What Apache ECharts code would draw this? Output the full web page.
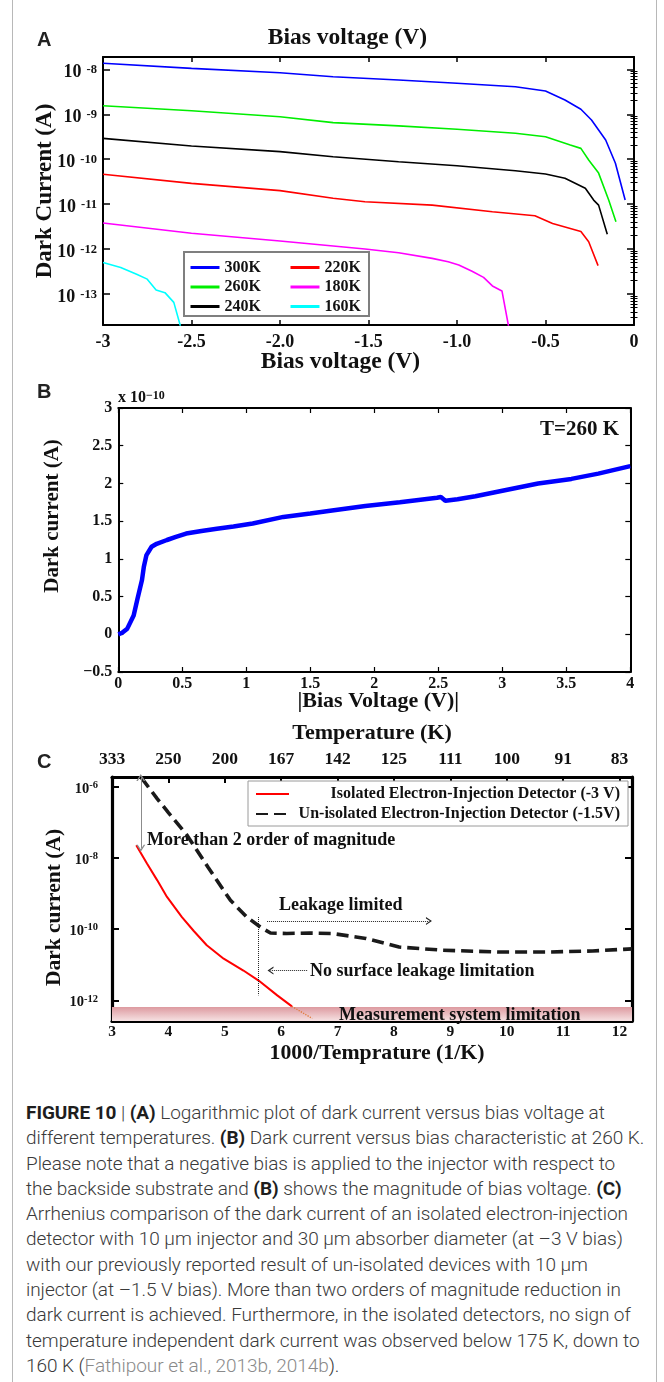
<!DOCTYPE html>
<html>
<head>
<meta charset="utf-8">
<title>Figure 10 – dark current</title>
<script src="https://cdn.jsdelivr.net/npm/echarts@6/dist/echarts.min.js"></script>
<style>
  html, body { margin: 0; padding: 0; background: #fff; }
  #frame { position: absolute; left: 12px; top: 0; width: 645px; height: 1382px;
           border-left: 1px solid #b8b8b8; border-right: 1px solid #b8b8b8; box-sizing: border-box; }
  #chart { position: absolute; left: 0; top: 0; width: 664px; height: 1090px; }
  #caption { position: absolute; left: 26px; top: 1100px; white-space: nowrap;
             font-family: Roboto, "Liberation Sans", Arial, sans-serif; font-weight: 300;
             font-size: 19px; letter-spacing: -0.05px; line-height: 25.3px; color: #3a3a3a; }
  #caption b { font-weight: 700; color: #1e1e1e; }
  #caption .cite { color: #8a8a8a; }
</style>
</head>
<body>
<div id="frame"></div>
<div id="chart"></div>
<div id="caption">
<b>FIGURE 10</b> | <b>(A)</b> Logarithmic plot of dark current versus bias voltage at<br>
different temperatures. <b>(B)</b> Dark current versus bias characteristic at 260 K.<br>
Please note that a negative bias is applied to the injector with respect to<br>
the backside substrate and <b>(B)</b> shows the magnitude of bias voltage. <b>(C)</b><br>
Arrhenius comparison of the dark current of an isolated electron-injection<br>
detector with 10 μm injector and 30 μm absorber diameter (at –3 V bias)<br>
with our previously reported result of un-isolated devices with 10 μm<br>
injector (at –1.5 V bias). More than two orders of magnitude reduction in<br>
dark current is achieved. Furthermore, in the isolated detectors, no sign of<br>
temperature independent dark current was observed below 175 K, down to<br>
160 K (<span class="cite">Fathipour et al., 2013b, 2014b</span>).
</div>
<script>
// ---------- (A) dark current [A] versus bias voltage [V] ----------
const iv300K = [[-3, 1.36e-8], [-2.5, 1.05e-8], [-2.0, 8.4e-9], [-1.7, 6.85e-9], [-1.33, 5.78e-9],
  [-1.0, 4.9e-9], [-0.67, 4.1e-9], [-0.5, 3.29e-9], [-0.39, 2.07e-9], [-0.3, 1.29e-9],
  [-0.24, 7.45e-10], [-0.16, 2.67e-10], [-0.105, 8.1e-11], [-0.05, 1.23e-11]];
const iv260K = [[-3, 1.55e-9], [-2.5, 1.2e-9], [-2.0, 8.8e-10], [-1.7, 6.5e-10], [-1.33, 5.5e-10],
  [-1.0, 4.62e-10], [-0.67, 3.77e-10], [-0.5, 3.16e-10], [-0.36, 2.07e-10], [-0.3, 1.74e-10],
  [-0.255, 9.5e-11], [-0.2, 4.9e-11], [-0.143, 1.23e-11], [-0.102, 4.07e-12]];
const iv240K = [[-3, 2.91e-10], [-2.5, 1.96e-10], [-2.0, 1.47e-10], [-1.7, 1.135e-10], [-1.33, 8.8e-11],
  [-1.0, 7.16e-11], [-0.67, 5.55e-11], [-0.5, 4.68e-11], [-0.39, 3.75e-11], [-0.275, 2.25e-11],
  [-0.228, 1.23e-11], [-0.2, 9.5e-12], [-0.151, 2.14e-12]];
const iv220K = [[-3, 4.61e-11], [-2.5, 2.9e-11], [-2.0, 2.0e-11], [-1.7, 1.35e-11], [-1.52, 1.13e-11],
  [-1.14, 9.5e-12], [-0.8, 6.76e-12], [-0.56, 5.5e-12], [-0.46, 3.72e-12], [-0.3, 2.45e-12],
  [-0.256, 1.45e-12], [-0.203, 4.27e-13]];
const iv180K = [[-3, 3.8e-12], [-2.5, 2.24e-12], [-2.0, 1.51e-12], [-1.7, 1.17e-12], [-1.52, 1.0e-12],
  [-1.33, 8.3e-13], [-1.14, 6.2e-13], [-1.05, 5.2e-13], [-0.99, 4.4e-13], [-0.915, 3.2e-13],
  [-0.85, 2.34e-13], [-0.8, 1.51e-13], [-0.746, 1.17e-13], [-0.70, 1.26e-14]];
const iv160K = [[-3, 5.0e-13], [-2.9, 3.9e-13], [-2.81, 2.75e-13], [-2.75, 2.14e-13], [-2.7, 1.23e-13],
  [-2.65, 1.07e-13], [-2.6, 6.5e-14], [-2.565, 2.1e-14], [-2.555, 1.26e-14]];
const decadesA = [1e-13, 1e-12, 1e-11, 1e-10, 1e-9, 1e-8];

// ---------- (B) dark current at 260 K versus |bias| ----------
const biasB = [0, 0.03, 0.07, 0.12, 0.15, 0.185, 0.2, 0.22, 0.26, 0.3, 0.38, 0.45, 0.53, 0.65, 0.77,
  0.9, 1.05, 1.29, 1.5, 1.67, 1.93, 2.2, 2.49, 2.52, 2.555, 2.65, 2.79, 3.02, 3.28, 3.54, 3.75, 3.9, 4.0];
const currentB = [0, 0.02, 0.075, 0.25, 0.47, 0.72, 0.9, 1.05, 1.16, 1.2, 1.25, 1.29, 1.335, 1.37, 1.40,
  1.43, 1.468, 1.556, 1.6, 1.64, 1.70, 1.75, 1.81, 1.82, 1.77, 1.79, 1.83, 1.91, 2.0, 2.06, 2.13, 2.19, 2.23]; // ×1e-10 A

// ---------- (C) Arrhenius plot: dark current versus 1000/T ----------
const invTIsolated = [3.43, 3.62, 3.8, 3.975, 4.24, 4.45, 4.68, 4.98, 5.33, 5.6, 5.93, 6.19];
const darkIsolated = [2.3e-8, 7.0e-9, 2.4e-9, 8.1e-10, 2.2e-10, 8.9e-11, 3.55e-11, 1.48e-11, 6.9e-12,
  3.6e-12, 1.38e-12, 6.8e-13];
const invTIsolatedExt = [6.19, 6.55];
const darkIsolatedExt = [6.8e-13, 3.1e-13];
const invTUnisolated = [3.52, 3.8, 4.0, 4.33, 4.7, 5.1, 5.39, 5.63, 5.81, 6.1, 6.5, 6.9, 7.5, 8.09,
  8.86, 9.86, 10.75, 11.52, 12.22];
const darkUnisolated = [1.82e-6, 4.7e-7, 1.9e-7, 4.4e-8, 5.6e-9, 6.5e-10, 2.2e-10, 1.15e-10, 7.8e-11,
  7.6e-11, 7.8e-11, 7.6e-11, 5.5e-11, 3.16e-11, 2.57e-11, 2.29e-11, 2.29e-11, 2.45e-11, 2.8e-11];
const invTTicks = [3, 4, 5, 6, 7, 8, 9, 10, 11, 12];
const temperatureTickLabels = ['333', '250', '200', '167', '142', '125', '111', '100', '91', '83'];
const decadesC = [1e-12, 1e-10, 1e-8, 1e-6];
const measurementFloor = [2.63e-13, 6.5e-13];

// ---------- helpers ----------
const SERIF = '"Liberation Serif", "Times New Roman", Times, serif';
const SANS = '"Liberation Sans", Arial, Helvetica, sans-serif';
const INK = '#111';
const zip = (xs, ys) => xs.map((x, i) => [x, ys[i]]);
const bold = (size, extra) => Object.assign({ fontFamily: SERIF, fontWeight: 'bold', fontSize: size, color: INK }, extra || {});
const minorDecadeTicks = (lo, hi) => {
  const out = [];
  for (let e = Math.floor(Math.log10(lo)); e <= Math.ceil(Math.log10(hi)); e++) {
    for (let k = 2; k <= 9; k++) {
      const v = k * Math.pow(10, e);
      if (v > lo && v < hi) out.push(v);
    }
  }
  return out;
};
const powLabel = v => '{b|10}{s|' + Math.round(Math.log10(v)) + '}';

const A_MIN = 2.04e-14, A_MAX = 1.88e-8;
const C_MIN = 2.63e-13, C_MAX = 1.9e-6;
const C_XMAX = 12.22;

function frameLine(w) { return { show: true, onZero: false, lineStyle: { color: '#000', width: w } }; }
function blankAxis() { return { axisLabel: { show: false }, splitLine: { show: false } }; }

const chevron = 'path://M0,10 L5,0 L10,10 L8.3,10 L5,3.4 L1.7,10 Z';

// ---------- axes ----------
const xAxes = [
  // A bottom
  { gridIndex: 0, type: 'value', position: 'bottom', min: -3, max: 0, interval: 0.5,
    axisLine: frameLine(2), axisTick: { inside: true, length: 5, lineStyle: { color: '#000', width: 1.5 } },
    axisLabel: Object.assign(bold(18), { margin: 8,
      formatter: v => (v === 0 ? '0' : (v === -3 ? '-3' : v.toFixed(1))) }),
    splitLine: { show: false },
    name: 'Bias voltage (V)', nameLocation: 'middle', nameGap: 25, nameMoveOverlap: false,
    nameTextStyle: bold(23.5, { padding: [0, 56, 0, 0] }) },
  // A top
  Object.assign(blankAxis(), { gridIndex: 0, type: 'value', position: 'top', min: -3, max: 0, interval: 0.5,
    axisLine: frameLine(2), axisTick: { inside: true, length: 5, lineStyle: { color: '#000', width: 1.5 } },
    name: 'Bias voltage (V)', nameLocation: 'middle', nameGap: 7, nameMoveOverlap: false,
    nameTextStyle: bold(23.5, { padding: [0, 42, 0, 0] }) }),
  // B bottom
  { gridIndex: 1, type: 'value', position: 'bottom', min: 0, max: 4, interval: 0.5,
    axisLine: frameLine(2), axisTick: { inside: true, length: 5, lineStyle: { color: '#000', width: 1.2 } },
    axisLabel: Object.assign(bold(16), { margin: 4 }),
    splitLine: { show: false },
    name: '|Bias Voltage (V)|', nameLocation: 'middle', nameGap: 18, nameMoveOverlap: false,
    nameTextStyle: bold(22, { padding: [0, 0, 0, 8] }) },
  // B top
  Object.assign(blankAxis(), { gridIndex: 1, type: 'value', position: 'top', min: 0, max: 4, interval: 0.5,
    axisLine: frameLine(2), axisTick: { inside: true, length: 5, lineStyle: { color: '#000', width: 1.2 } } }),
  // C bottom
  { gridIndex: 2, type: 'value', position: 'bottom', min: 3, max: C_XMAX,
    axisLine: frameLine(3.2),
    axisTick: { inside: true, length: 7, customValues: invTTicks, lineStyle: { color: '#000', width: 2 } },
    axisLabel: Object.assign(bold(15.5), { margin: 3, customValues: invTTicks }),
    splitLine: { show: false },
    name: '1000/Temprature (1/K)', nameLocation: 'middle', nameGap: 21, nameMoveOverlap: false,
    nameTextStyle: bold(21.8, { padding: [0, 0, 0, 10] }) },
  // C top (temperature scale)
  { gridIndex: 2, type: 'value', position: 'top', min: 3, max: C_XMAX,
    axisLine: frameLine(3.2),
    axisTick: { inside: true, length: 6, customValues: invTTicks, lineStyle: { color: '#000', width: 2 } },
    axisLabel: Object.assign(bold(17.5), { margin: 9, customValues: invTTicks,
      formatter: v => temperatureTickLabels[invTTicks.indexOf(Math.round(v))] }),
    splitLine: { show: false },
    name: 'Temperature (K)', nameLocation: 'middle', nameGap: 33, nameTextStyle: bold(22), nameMoveOverlap: false }
];

const richA = {
  b: { fontFamily: SERIF, fontWeight: 'bold', fontSize: 18, color: INK, lineHeight: 18 },
  s: { fontFamily: SERIF, fontWeight: 'bold', fontSize: 12.5, color: INK, lineHeight: 12, verticalAlign: 'top', padding: [0, 0, 0, 5] }
};
const richC = {
  b: { fontFamily: SERIF, fontWeight: 'bold', fontSize: 14.5, color: INK, lineHeight: 14, padding: [4, 0, 0, 0] },
  s: { fontFamily: SERIF, fontWeight: 'bold', fontSize: 10.5, color: INK, lineHeight: 10, verticalAlign: 'top' }
};
const minorA = minorDecadeTicks(A_MIN, A_MAX);

const yAxes = [
  // A left (decades + labels)
  { gridIndex: 0, type: 'log', position: 'left', min: A_MIN, max: A_MAX,
    axisLine: frameLine(2),
    axisTick: { inside: true, length: 7, customValues: decadesA, lineStyle: { color: '#000', width: 1.5 } },
    axisLabel: { customValues: decadesA, margin: 6, padding: [6, 0, 0, 0], formatter: powLabel, rich: richA },
    splitLine: { show: false }, minorTick: { show: false },
    name: 'Dark Current (A)', nameLocation: 'middle', nameGap: 46, nameTextStyle: bold(23), nameMoveOverlap: false },
  // A left minor ticks
  Object.assign(blankAxis(), { gridIndex: 0, type: 'log', position: 'left', min: A_MIN, max: A_MAX,
    axisLine: { show: false },
    axisTick: { inside: true, length: 3.5, customValues: minorA, lineStyle: { color: '#000', width: 1 } } }),
  // A right
  Object.assign(blankAxis(), { gridIndex: 0, type: 'log', position: 'right', min: A_MIN, max: A_MAX,
    axisLine: frameLine(2),
    axisTick: { inside: true, length: 7, customValues: decadesA, lineStyle: { color: '#000', width: 1.5 } } }),
  // A right minor ticks
  Object.assign(blankAxis(), { gridIndex: 0, type: 'log', position: 'right', min: A_MIN, max: A_MAX,
    axisLine: { show: false },
    axisTick: { inside: true, length: 3.5, customValues: minorA, lineStyle: { color: '#000', width: 1 } } }),
  // B left
  { gridIndex: 1, type: 'value', position: 'left', min: -0.5, max: 3, interval: 0.5,
    axisLine: frameLine(2),
    axisTick: { inside: true, length: 5, lineStyle: { color: '#000', width: 1.2 } },
    axisLabel: Object.assign(bold(16), { margin: 6, formatter: v => (v < 0 ? '\u2212' + Math.abs(v) : String(v)) }),
    splitLine: { show: false },
    name: 'Dark current (A)', nameLocation: 'middle', nameGap: 55, nameMoveOverlap: false,
    nameTextStyle: bold(21, { padding: [0, 0, 0, 48] }) },
  // B right
  Object.assign(blankAxis(), { gridIndex: 1, type: 'value', position: 'right', min: -0.5, max: 3, interval: 0.5,
    axisLine: frameLine(2),
    axisTick: { inside: true, length: 5, lineStyle: { color: '#000', width: 1.2 } } }),
  // C left
  { gridIndex: 2, type: 'log', position: 'left', min: C_MIN, max: C_MAX,
    axisLine: frameLine(3.2),
    axisTick: { inside: true, length: 7, customValues: decadesC, lineStyle: { color: '#000', width: 2 } },
    axisLabel: { customValues: decadesC, margin: 14, formatter: powLabel, rich: richC },
    splitLine: { show: false }, minorTick: { show: false },
    name: 'Dark current (A)', nameLocation: 'middle', nameGap: 47, nameMoveOverlap: false,
    nameTextStyle: bold(21.5, { padding: [0, 17, 0, 0] }) },
  // C right
  Object.assign(blankAxis(), { gridIndex: 2, type: 'log', position: 'right', min: C_MIN, max: C_MAX,
    axisLine: frameLine(3.2),
    axisTick: { inside: true, length: 7, customValues: decadesC, lineStyle: { color: '#000', width: 2 } } })
];

// ---------- series ----------
const lineA = (name, data, color) => ({
  name, type: 'line', xAxisIndex: 0, yAxisIndex: 0, data, symbol: 'none', clip: true,
  lineStyle: { color, width: 1.6 }, itemStyle: { color }, z: 2
});

const series = [
  lineA('300K', iv300K, '#0000ff'),
  lineA('260K', iv260K, '#00ee00'),
  lineA('240K', iv240K, '#000000'),
  lineA('220K', iv220K, '#ff0000'),
  lineA('180K', iv180K, '#ff00ff'),
  lineA('160K', iv160K, '#00ffff'),
  { name: 'T=260 K', type: 'line', xAxisIndex: 2, yAxisIndex: 4, data: zip(biasB, currentB),
    symbol: 'none', lineStyle: { color: '#0000ff', width: 4.5 }, itemStyle: { color: '#0000ff' } },
  { name: 'Isolated Electron-Injection Detector (-3 V)', type: 'line', xAxisIndex: 4, yAxisIndex: 6,
    data: zip(invTIsolated, darkIsolated), symbol: 'none', clip: true,
    lineStyle: { color: '#ff0000', width: 2 }, itemStyle: { color: '#ff0000' }, z: 3,
    markArea: {
      silent: true,
      itemStyle: { color: new echarts.graphic.LinearGradient(0, 0, 0, 1, [
        { offset: 0, color: '#dd9aa0' }, { offset: 1, color: '#f6e2e3' }]) },
      data: [[{ coord: [3, measurementFloor[1]] }, { coord: [C_XMAX, measurementFloor[0]] }]]
    },
    markLine: {
      silent: true, animation: false, symbol: 'none', label: { show: false },
      emphasis: { disabled: true },
      data: [
        [{ coord: [3.51, 1.85e-6], symbol: chevron, symbolSize: [9, 7],
           lineStyle: { color: '#8c8c8c', width: 1, type: 'solid' } },
         { coord: [3.51, 1.9e-8], symbol: chevron, symbolSize: [9, 7] }],
        [{ coord: [5.75, 1.7e-10], symbol: 'none', lineStyle: { color: '#222', width: 1, type: 'dotted' } },
         { coord: [8.62, 1.7e-10], symbol: chevron, symbolSize: [8, 6] }],
        [{ coord: [5.6, 2.2e-10], symbol: 'none', lineStyle: { color: '#222', width: 1, type: 'dotted' } },
         { coord: [5.6, 1.38e-12], symbol: 'none' }],
        [{ coord: [6.46, 6.9e-12], symbol: 'none', lineStyle: { color: '#222', width: 1, type: 'dotted' } },
         { coord: [5.81, 6.9e-12], symbol: chevron, symbolSize: [8, 6] }]
      ]
    } },
  { name: 'isolated-extrapolated', type: 'line', xAxisIndex: 4, yAxisIndex: 6,
    data: zip(invTIsolatedExt, darkIsolatedExt), symbol: 'none',
    lineStyle: { color: '#e07a3a', width: 1.3, type: 'dotted' }, z: 3 },
  { name: 'Un-isolated Electron-Injection Detector (-1.5V)', type: 'line', xAxisIndex: 4, yAxisIndex: 6,
    data: zip(invTUnisolated, darkUnisolated), symbol: 'none', clip: true,
    lineStyle: { color: '#1a1a1a', width: 3.6, type: [12, 6] }, itemStyle: { color: '#1a1a1a' }, z: 3 }
];

// ---------- legends ----------
const legendA = (left, names) => ({
  orient: 'vertical', left, top: 259.5, padding: 0, itemGap: 3.5, itemWidth: 29, itemHeight: 14,
  data: names, selectedMode: false, z: 6,
  lineStyle: { width: 3 },
  itemStyle: { opacity: 0 },
  textStyle: bold(16)
});

const option = {
  animation: false,
  backgroundColor: 'transparent',
  grid: [
    { left: 103, top: 57, width: 531, height: 268, outerBoundsMode: 'none', containLabel: false },
    { left: 118.3, top: 408, width: 512, height: 264, outerBoundsMode: 'none', containLabel: false },
    { left: 112, top: 777, width: 520, height: 244, outerBoundsMode: 'none', containLabel: false }
  ],
  xAxis: xAxes,
  yAxis: yAxes,
  legend: [
    legendA(189, ['300K', '260K', '240K']),
    legendA(289, ['220K', '180K', '160K']),
    { orient: 'vertical', left: 248, top: 781, padding: [5, 8, 4, 7], itemGap: 4, itemWidth: 33, itemHeight: 14,
      borderColor: '#9a9a9a', borderWidth: 1, backgroundColor: '#fff', selectedMode: false, z: 6,
      itemStyle: { opacity: 0 },
      data: ['Isolated Electron-Injection Detector (-3 V)', 'Un-isolated Electron-Injection Detector (-1.5V)'],
      formatter: name => '{r|' + name + '}',
      textStyle: { rich: { r: { width: 326, align: 'right', fontFamily: SERIF, fontWeight: 'bold', fontSize: 16, color: INK } } } }
  ],
  graphic: [
    // panel letters
    { type: 'text', left: 37, top: 30, z: 10, style: { text: 'A', fontFamily: SANS, fontWeight: 'bold', fontSize: 20, fill: '#222' } },
    { type: 'text', left: 37, top: 382, z: 10, style: { text: 'B', fontFamily: SANS, fontWeight: 'bold', fontSize: 20, fill: '#222' } },
    { type: 'text', left: 37, top: 752, z: 10, style: { text: 'C', fontFamily: SANS, fontWeight: 'bold', fontSize: 20, fill: '#222' } },
    // legend frame for panel A
    { type: 'rect', z: 5, shape: { x: 184, y: 252, width: 185, height: 64 },
      style: { fill: '#fff', stroke: '#7f7f7f', lineWidth: 2 } },
    // panel B annotations
    { type: 'text', x: 118, y: 398, z: 10,
      style: { text: '{a|x 10}{b|\u221210}', verticalAlign: 'middle',
        rich: { a: { fontFamily: SERIF, fontWeight: 'bold', fontSize: 16, fill: INK, lineHeight: 16 },
                b: { fontFamily: SERIF, fontWeight: 'bold', fontSize: 12, fill: INK, lineHeight: 12, verticalAlign: 'top' } } } },
    { type: 'text', x: 619, y: 430, z: 10,
      style: { text: 'T=260 K', align: 'right', verticalAlign: 'middle', fontFamily: SERIF, fontWeight: 'bold', fontSize: 21, fill: INK } },
    // panel C annotations
    { type: 'text', x: 147, y: 840, z: 10,
      style: { text: 'More than 2 order of magnitude', verticalAlign: 'middle', fontFamily: SERIF, fontWeight: 'bold', fontSize: 18, fill: INK } },
    { type: 'text', x: 279, y: 905, z: 10,
      style: { text: 'Leakage limited', verticalAlign: 'middle', fontFamily: SERIF, fontWeight: 'bold', fontSize: 18, fill: INK } },
    { type: 'text', x: 310, y: 971.5, z: 10,
      style: { text: 'No surface leakage limitation', verticalAlign: 'middle', fontFamily: SERIF, fontWeight: 'bold', fontSize: 18, fill: INK } },
    { type: 'text', x: 339, y: 1015, z: 10,
      style: { text: 'Measurement system limitation', verticalAlign: 'middle', fontFamily: SERIF, fontWeight: 'bold', fontSize: 18, fill: INK } }
  ],
  series
};

const chart = echarts.init(document.getElementById('chart'), null, { renderer: 'canvas' });
chart.setOption(option);
</script>
</body>
</html>
